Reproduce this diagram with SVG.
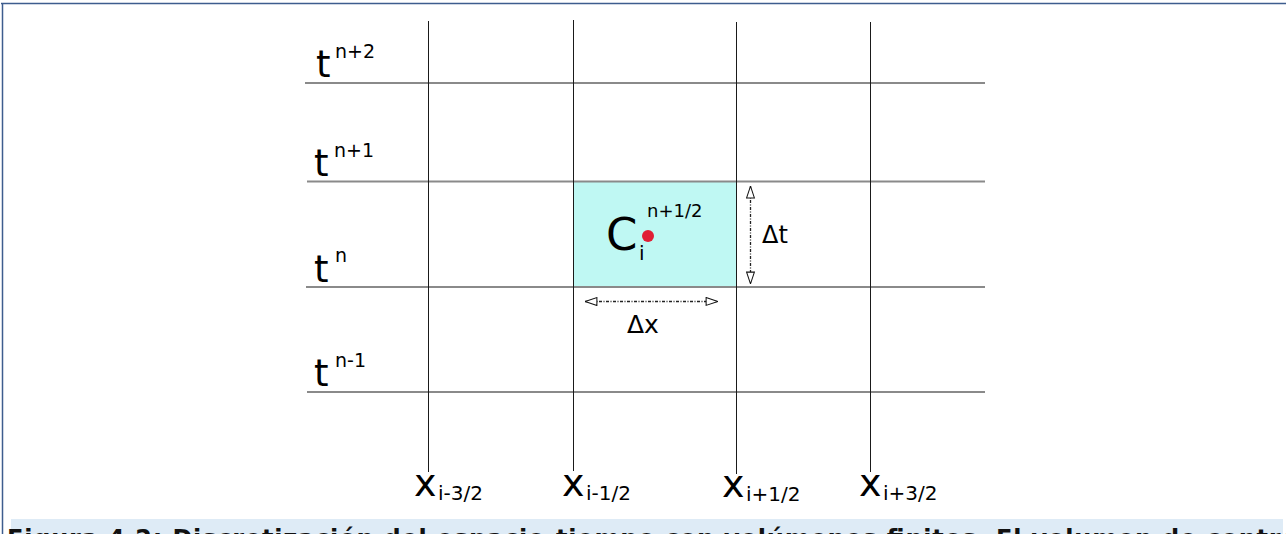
<svg xmlns="http://www.w3.org/2000/svg" width="1286" height="534" viewBox="0 0 1286 534">
<defs>
<style>
.hl{stroke:#8a8a8a;stroke-width:2;fill:none}
.vl{stroke:#1a1a1a;stroke-width:1;fill:none}
.lbl{font-family:"DejaVu Sans",sans-serif;fill:#000}
.dim{stroke:#222;stroke-width:1.3;stroke-dasharray:3,1.5,1,1.5;fill:none}
</style>
<marker id="tri" viewBox="0 0 14 10" refX="13.5" refY="5" markerWidth="13" markerHeight="10" markerUnits="userSpaceOnUse" orient="auto-start-reverse">
<path d="M0.7,0.8 L13.3,5 L0.7,9.2 Z" fill="#fff" stroke="#111" stroke-width="1.1"/>
</marker>
</defs>
<rect width="1286" height="534" fill="#fff"/>
<g id="frame">
<line x1="1" y1="3.5" x2="1286" y2="3.5" stroke="#3d5d8e" stroke-width="1.5"/>
<line x1="2.5" y1="3" x2="2.5" y2="534" stroke="#3d5d8e" stroke-width="1.5"/>
</g>
<g id="cell">
<rect x="573" y="181" width="163" height="105" fill="#bff8f3"/>
</g>
<g id="grid">
<line class="hl" x1="305" y1="83" x2="985" y2="83"/>
<line class="hl" x1="307" y1="181.5" x2="985" y2="181.5"/>
<line class="hl" x1="306" y1="287" x2="985" y2="287"/>
<line class="hl" x1="307" y1="392" x2="985" y2="392"/>
<line class="vl" x1="428.5" y1="21" x2="428.5" y2="472"/>
<line class="vl" x1="573.5" y1="20" x2="573.5" y2="471"/>
<line class="vl" x1="736.5" y1="22" x2="736.5" y2="474"/>
<line class="vl" x1="870.5" y1="22" x2="870.5" y2="472"/>
</g>
<g id="t-labels" class="lbl">
<text x="316" y="77" font-size="37">t<tspan x="335" y="58" font-size="19">n+2</tspan></text>
<text x="314" y="176" font-size="37">t<tspan x="334" y="157" font-size="19">n+1</tspan></text>
<text x="314" y="282" font-size="37">t<tspan x="335" y="262" font-size="19">n</tspan></text>
<text x="314" y="386" font-size="37">t<tspan x="335" y="367" font-size="19">n-1</tspan></text>
</g>
<g id="x-labels" class="lbl">
<text x="414" y="496" font-size="38">x<tspan x="438" y="500" font-size="20">i-3/2</tspan></text>
<text x="562" y="496" font-size="38">x<tspan x="586" y="500" font-size="20">i-1/2</tspan></text>
<text x="722" y="497" font-size="38">x<tspan x="746" y="501" font-size="20">i+1/2</tspan></text>
<text x="859" y="496" font-size="38">x<tspan x="883" y="500" font-size="20">i+3/2</tspan></text>
</g>
<g id="node-c">
<text class="lbl" x="606" y="250" font-size="45">C</text>
<text class="lbl" x="639" y="260" font-size="20">i</text>
<text class="lbl" x="647" y="217" font-size="18">n+1/2</text>
<circle cx="648" cy="236" r="6" fill="#e01f35"/>
</g>
<g id="connectors">
<line class="dim" x1="750.5" y1="186" x2="750.5" y2="284" marker-start="url(#tri)" marker-end="url(#tri)"/>
<line class="dim" x1="585" y1="301.5" x2="718" y2="301.5" marker-start="url(#tri)" marker-end="url(#tri)"/>
</g>
<g id="dim-labels" class="lbl">
<text x="762" y="243" font-size="24">Δt</text>
<text x="627" y="333" font-size="25">Δx</text>
</g>
<g id="caption">
<rect x="11" y="519" width="1272" height="15" fill="#deebf6"/>
<text x="7" y="547" font-family="DejaVu Sans, sans-serif" font-weight="bold" font-size="24" fill="#111" textLength="1300" lengthAdjust="spacing">Figura 4.2: Discretización del espacio-tiempo con volúmenes finitos. El volumen de control</text>
</g>
</svg>
